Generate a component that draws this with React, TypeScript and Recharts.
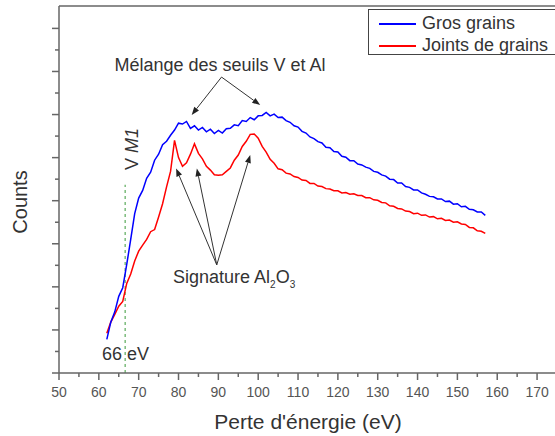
import { LineChart, Line, XAxis, YAxis, ReferenceLine } from "recharts";

// energy-loss channels (eV) and the two EELS spectra
const energy = [
  62, 63, 64, 65, 66, 67, 68, 69, 70, 71, 72, 73, 74, 75, 76, 77, 78, 79, 80, 81,
  82, 83, 84, 85, 86, 87, 88, 89, 90, 91, 92, 93, 94, 95, 96, 97, 98, 99, 100, 101,
  102, 103, 104, 105, 106, 107, 108, 109, 110, 111, 112, 113, 114, 115, 116, 117, 118, 119, 120, 121,
  122, 123, 124, 125, 126, 127, 128, 129, 130, 131, 132, 133, 134, 135, 136, 137, 138, 139, 140, 141,
  142, 143, 144, 145, 146, 147, 148, 149, 150, 151, 152, 153, 154, 155, 156, 157,
];

const grosGrains = [
  0.78, 1.18, 1.42, 1.78, 1.98, 2.52, 3.1, 3.7, 4.06, 4.24, 4.52, 4.66, 4.94, 5.08, 5.3, 5.38, 5.52, 5.64, 5.8, 5.78,
  5.84, 5.68, 5.74, 5.64, 5.7, 5.6, 5.66, 5.56, 5.63, 5.57, 5.67, 5.68, 5.76, 5.74, 5.86, 5.84, 5.93, 5.88, 5.97, 5.98,
  6.05, 5.97, 6.01, 5.93, 5.94, 5.86, 5.82, 5.74, 5.71, 5.61, 5.57, 5.48, 5.44, 5.37, 5.34, 5.24, 5.23, 5.14, 5.13, 5.03,
  5.01, 4.93, 4.93, 4.85, 4.83, 4.78, 4.75, 4.68, 4.66, 4.6, 4.57, 4.5, 4.49, 4.41, 4.41, 4.33, 4.31, 4.25, 4.25, 4.18,
  4.15, 4.1, 4.09, 4.04, 4.04, 3.98, 3.99, 3.92, 3.93, 3.86, 3.87, 3.8, 3.79, 3.74, 3.74, 3.66,
];

const jointsGrains = [
  0.92, 1.18, 1.36, 1.55, 1.66, 2.08, 2.3, 2.6, 2.83, 2.97, 3.1, 3.28, 3.33, 3.62, 3.93, 4.32, 4.68, 5.4, 5.0, 4.8,
  4.88, 5.08, 5.32, 5.1, 4.97, 4.8, 4.71, 4.6, 4.59, 4.6, 4.68, 4.76, 4.94, 5.06, 5.26, 5.38, 5.54, 5.55, 5.45, 5.26,
  5.13, 4.96, 4.87, 4.74, 4.72, 4.64, 4.62, 4.56, 4.54, 4.48, 4.47, 4.4, 4.4, 4.34, 4.33, 4.28, 4.27, 4.23, 4.23, 4.18,
  4.19, 4.15, 4.16, 4.12, 4.12, 4.07, 4.07, 4.02, 4.01, 3.96, 3.95, 3.88, 3.87, 3.82, 3.81, 3.76, 3.75, 3.7, 3.71, 3.66,
  3.67, 3.62, 3.63, 3.58, 3.59, 3.54, 3.55, 3.5, 3.51, 3.46, 3.45, 3.38, 3.37, 3.3, 3.29, 3.24,
];

const xTicks = [50, 55, 60, 65, 70, 75, 80, 85, 90, 95, 100, 105, 110, 115, 120, 125, 130, 135, 140, 145, 150, 155, 160, 165, 170];
const yTicks = [0, 0.5, 1, 1.5, 2, 2.5, 3, 3.5, 4, 4.5, 5, 5.5, 6, 6.5, 7, 7.5, 8];

const V_M1_EDGE = 66.6;

const FONT = "'Liberation Sans', Arial, sans-serif";
const AXIS = "#666";
const TEXT = "#333";
const BLUE = "#0000ff";
const RED = "#ff0000";

const data = energy.map((e, i) => ({ e, gros: grosGrains[i], joints: jointsGrains[i] }));

function XTick({ x, y, payload }: any) {
  const major = payload.value % 10 === 0;
  return (
    <g>
      <line x1={x} x2={x} y1={y} y2={y + (major ? 7 : 4)} stroke={AXIS} strokeWidth={1.5} />
      {major && (
        <text x={x} y={y + 24} textAnchor="middle" fontSize={14} fill="#555" fontFamily={FONT}>
          {payload.value}
        </text>
      )}
    </g>
  );
}

function YTick({ x, y, payload }: any) {
  const major = payload.value % 1 === 0;
  return <line x1={x - (major ? 7 : 4)} x2={x} y1={y} y2={y} stroke={AXIS} strokeWidth={1.5} />;
}

function Arrow(props: any) {
  const { x1, y1, x2, y2 } = props;
  const ang = Math.atan2(y2 - y1, x2 - x1);
  const len = 8;
  const half = 3;
  const bx = x2 - len * Math.cos(ang);
  const by = y2 - len * Math.sin(ang);
  const px = -Math.sin(ang) * half;
  const py = Math.cos(ang) * half;
  return (
    <g>
      <line x1={x1} y1={y1} x2={bx} y2={by} stroke="#333" strokeWidth={1} />
      <polygon points={`${x2},${y2} ${bx + px},${by + py} ${bx - px},${by - py}`} fill="#222" />
    </g>
  );
}

// annotation arrows: [apex, tip] in data coordinates
const melangeArrows = [
  [{ x: 90.8, y: 6.87 }, { x: 83.3, y: 5.99 }],
  [{ x: 90.8, y: 6.87 }, { x: 100.5, y: 6.22 }],
];
const signatureArrows = [
  [{ x: 89.6, y: 2.51 }, { x: 79.4, y: 4.75 }],
  [{ x: 89.6, y: 2.51 }, { x: 84.6, y: 4.75 }],
  [{ x: 89.6, y: 2.51 }, { x: 98.0, y: 5.06 }],
];

const abs = (left: number, top: number, extra: any = {}) => ({
  position: "absolute" as const,
  left,
  top,
  whiteSpace: "nowrap" as const,
  fontFamily: FONT,
  color: TEXT,
  lineHeight: 1,
  ...extra,
});

export default function App() {
  return (
    <div style={{ position: "absolute", left: 0, top: 0, width: 555, height: 436, background: "#fff", overflow: "hidden" }}>
      <LineChart width={555} height={436} data={data} margin={{ top: 6, right: 0, bottom: 0, left: 0 }}>
        <XAxis
          dataKey="e"
          type="number"
          domain={[50, 174.5]}
          ticks={xTicks}
          interval={0}
          height={63}
          tickSize={0}
          tickMargin={0}
          tickLine={false}
          stroke={AXIS}
          strokeWidth={1.5}
          tick={<XTick />}
        />
        <YAxis
          type="number"
          domain={[0, 8.52]}
          ticks={yTicks}
          interval={0}
          width={59}
          tickSize={0}
          tickMargin={0}
          tickLine={false}
          stroke={AXIS}
          strokeWidth={1.5}
          tick={<YTick />}
        />
        <ReferenceLine y={8.52} stroke={AXIS} strokeWidth={1.5} ifOverflow="visible" />
        <ReferenceLine
          segment={[{ x: V_M1_EDGE, y: 0 }, { x: V_M1_EDGE, y: 4.37 }]}
          stroke="#3a9a3a"
          strokeDasharray="3 3"
          strokeWidth={1}
        />
        <Line dataKey="joints" stroke={RED} strokeWidth={1.5} dot={false} isAnimationActive={false} />
        <Line dataKey="gros" stroke={BLUE} strokeWidth={1.5} dot={false} isAnimationActive={false} />
        {melangeArrows.map((s, i) => (
          <ReferenceLine key={`m${i}`} segment={s} shape={<Arrow />} />
        ))}
        {signatureArrows.map((s, i) => (
          <ReferenceLine key={`s${i}`} segment={s} shape={<Arrow />} />
        ))}
      </LineChart>

      {/* legend */}
      <div
        style={{
          position: "absolute",
          left: 368,
          top: 9,
          width: 190,
          height: 44,
          border: "1px solid #444",
          background: "#fff",
          fontFamily: FONT,
          fontSize: 18,
          color: TEXT,
        }}
      >
        <div style={{ position: "absolute", left: 10, top: 13, width: 37, height: 1.5, background: BLUE }} />
        <div style={{ position: "absolute", left: 53, top: 4, lineHeight: 1 }}>Gros grains</div>
        <div style={{ position: "absolute", left: 10, top: 35, width: 37, height: 1.5, background: RED }} />
        <div style={{ position: "absolute", left: 53, top: 26, lineHeight: 1 }}>Joints de grains</div>
      </div>

      <div style={abs(220, 65, { fontSize: 18, transform: "translate(-50%, -50%)" })}>Mélange des seuils V et Al</div>
      <div style={abs(173, 279, { fontSize: 18, transform: "translateY(-50%)" })}>
        Signature Al<sub style={{ fontSize: 10 }}>2</sub>O<sub style={{ fontSize: 10 }}>3</sub>
      </div>
      <div style={abs(102, 354, { fontSize: 18, transform: "translateY(-50%)" })}>66 eV</div>
      <div style={abs(132, 149, { fontSize: 18, transform: "translate(-50%, -50%) rotate(-90deg)" })}>
        V <i>M1</i>
      </div>
      <div style={abs(20, 202, { fontSize: 20, transform: "translate(-50%, -50%) rotate(-90deg)" })}>Counts</div>
      <div style={abs(308, 421, { fontSize: 21, transform: "translate(-50%, -50%)" })}>Perte d'énergie (eV)</div>
    </div>
  );
}
